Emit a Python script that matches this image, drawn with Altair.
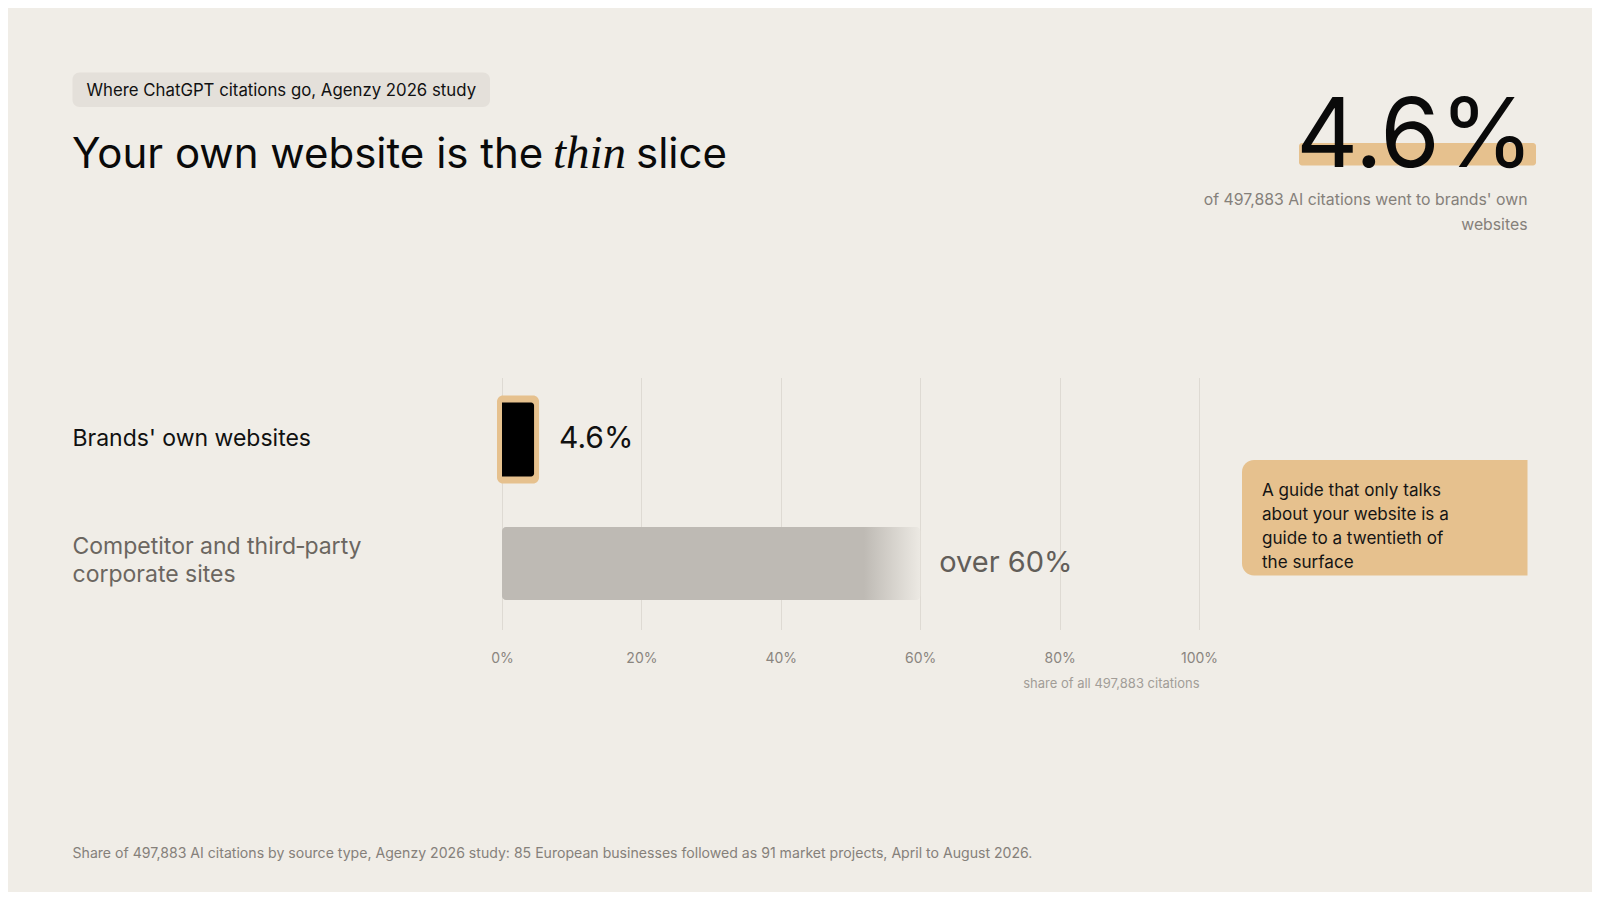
import altair as alt
import pandas as pd

# ---------------- data ----------------
keys = ["brand", "competitor"]
category_labels = [["Brands' own websites"], ["Competitor and third\u2011party", "corporate sites"]]
shares = [4.6, 60]
value_labels = ["4.6%", "over 60%"]
tick_values = [0, 20, 40, 60, 80, 100]

tag_text = "Where ChatGPT citations go, Agenzy 2026 study"
title_parts = ["Your own website is the", "thin", "slice"]
big_number = "4.6%"
big_sub = ["of 497,883 AI citations went to brands' own", "websites"]
callout_lines = ["A guide that only talks", "about your website is a", "guide to a twentieth of", "the surface"]
axis_title = "share of all 497,883 citations"
footer = ("Share of 497,883 AI citations by source type, Agenzy 2026 study: 85 European businesses "
          "followed as 91 market projects, April to August 2026.")

df = pd.DataFrame({
    "key": keys,
    "label": category_labels,
    "start": [0, 0],
    "share": shares,
    "vlabel": value_labels,
})

# ---------------- styles ----------------
BG = "#F0EDE7"
TAN = "#E6C18E"
FONT = "Inter"
W, H = 697, 252
PAD_L, PAD_T = 494, 369.5
TOTAL_W, TOTAL_H = 1584, 884

x_axis = alt.Axis(values=tick_values, labelExpr="datum.value + '%'", grid=True, gridColor="#DEDAD3",
                  gridWidth=1, domain=False, ticks=False, labelPadding=22, labelFlush=False,
                  labelFont=FONT, labelFontSize=14, labelColor="#8A857F", title=axis_title,
                  titleFont=FONT, titleFontSize=13, titleFontWeight="normal", titleColor="#A29D97",
                  titleAnchor="end", titlePadding=12)
x_scale = alt.Scale(domain=[0, 100], nice=False, zero=True)
y_enc = alt.Y("key:N", scale=alt.Scale(domain=keys, paddingInner=0, paddingOuter=0.016, align=0),
              axis=None)

base = alt.Chart(df)
brand = base.transform_filter(alt.datum.key == "brand")
comp = base.transform_filter(alt.datum.key == "competitor")

tan_bar = brand.mark_bar(
    color=TAN, size=88, cornerRadius=6, xOffset=-5, x2Offset=5
).encode(x=alt.X("start:Q", scale=x_scale, axis=x_axis), x2="share:Q", y=y_enc)

black_bar = brand.mark_bar(
    color="#000000", size=74, cornerRadiusTopRight=3, cornerRadiusBottomRight=3
).encode(x=alt.X("start:Q", scale=x_scale, axis=x_axis), x2="share:Q", y=y_enc)

grad = alt.LinearGradient(
    gradient="linear", x1=0, x2=1, y1=0, y2=0,
    stops=[alt.GradientStop(color="#BEBAB4", offset=0),
           alt.GradientStop(color="#BEBAB4", offset=0.865),
           alt.GradientStop(color="#ECE9E3", offset=1)],
)
gray_bar = comp.mark_bar(
    color=grad, size=73, cornerRadius=4
).encode(x=alt.X("start:Q", scale=x_scale, axis=x_axis), x2="share:Q", y=y_enc)

val_brand = brand.mark_text(
    align="left", baseline="middle", dx=25, dy=-1, font=FONT, fontSize=30, color="#111111"
).encode(x=alt.X("share:Q", scale=x_scale, axis=x_axis), y=y_enc, text="vlabel:N")

val_comp = comp.mark_text(
    align="left", baseline="middle", dx=19, dy=-1, font=FONT, fontSize=29, color="#625E59"
).encode(x=alt.X("share:Q", scale=x_scale, axis=x_axis), y=y_enc, text="vlabel:N")

lab_brand = brand.mark_text(
    align="left", baseline="middle", dy=-1, font=FONT, fontSize=23, color="#111111"
).encode(x=alt.value(72.5 - 502), y=y_enc, text="label:N")

lab_comp = comp.mark_text(
    align="left", baseline="middle", dy=-17, font=FONT, fontSize=23, lineHeight=28.5, color="#6B6660"
).encode(x=alt.value(72.5 - 502), y=y_enc, text="label:N")

one = alt.Chart(pd.DataFrame({"a": [0]}))


def px(X):
    return X - 8 - PAD_L


def py(Y):
    return Y - 8 - PAD_T


tag_box = one.mark_rect(color="#E4E0DA", cornerRadius=7).encode(
    x=alt.value(px(72.5)), x2=alt.value(px(490)), y=alt.value(py(72.5)), y2=alt.value(py(107)))
tag_txt = one.mark_text(align="left", baseline="middle", font=FONT, fontSize=16.8, color="#111111").encode(
    x=alt.value(px(86.5)), y=alt.value(py(91)), text=alt.value(tag_text))

t1 = one.mark_text(align="left", baseline="alphabetic", font=FONT, fontSize=42, color="#0A0A0A").encode(
    x=alt.value(px(72)), y=alt.value(py(167.5)), text=alt.value(title_parts[0]))
t2 = one.mark_text(align="left", baseline="alphabetic", font="Liberation Serif", fontStyle="italic",
                   fontSize=47, color="#0A0A0A").encode(
    x=alt.value(px(553)), y=alt.value(py(167.5)), text=alt.value(title_parts[1]))
t3 = one.mark_text(align="left", baseline="alphabetic", font=FONT, fontSize=42, color="#0A0A0A").encode(
    x=alt.value(px(636)), y=alt.value(py(167.5)), text=alt.value(title_parts[2]))

hl = one.mark_rect(color=TAN, cornerRadius=3).encode(
    x=alt.value(px(1299)), x2=alt.value(px(1536)), y=alt.value(py(143)), y2=alt.value(py(165.5)))
big = one.mark_text(align="right", baseline="alphabetic", font=FONT, fontSize=96, color="#0A0A0A").encode(
    x=alt.value(px(1534)), y=alt.value(py(166.5)), text=alt.value(big_number))
big_s = one.mark_text(align="right", baseline="top", font=FONT, fontSize=15.8, color="#85807A",
                      lineHeight=24.5).encode(
    x=alt.value(px(1527.5)), y=alt.value(py(193)), text=alt.value(big_sub))

call_box = one.mark_rect(color=TAN, cornerRadiusTopLeft=12, cornerRadiusBottomLeft=12).encode(
    x=alt.value(px(1242)), x2=alt.value(px(1527.5)), y=alt.value(py(460)), y2=alt.value(py(575.5)))
call_txt = one.mark_text(align="left", baseline="top", font=FONT, fontSize=17.1, color="#141414",
                         lineHeight=24.1).encode(
    x=alt.value(px(1262)), y=alt.value(py(482)), text=alt.value(callout_lines))

foot = one.mark_text(align="left", baseline="middle", font=FONT, fontSize=14.1, color="#85807A").encode(
    x=alt.value(px(72.5)), y=alt.value(py(854)), text=alt.value(footer))

chart = alt.layer(
    tan_bar, black_bar, gray_bar, val_brand, val_comp, lab_brand, lab_comp,
    tag_box, tag_txt, t1, t2, t3, hl, big, big_s, call_box, call_txt, foot,
).properties(
    width=W, height=H,
    autosize=alt.AutoSizeParams(type="none"),
    padding={"left": PAD_L, "top": PAD_T, "right": TOTAL_W - PAD_L - W, "bottom": TOTAL_H - PAD_T - H},
    background=BG,
).configure_view(stroke=None).configure_text(font=FONT)

chart.save("out.html", embed_options={"renderer": "svg", "actions": False})
